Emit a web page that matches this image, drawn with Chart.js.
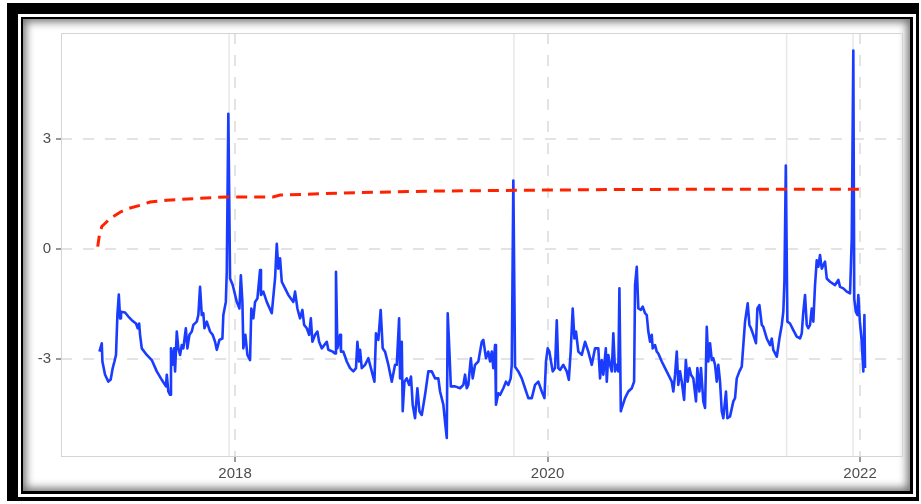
<!DOCTYPE html>
<html><head><meta charset="utf-8">
<script src="https://cdn.jsdelivr.net/npm/chart.js@4.4.1/dist/chart.umd.min.js"></script>
<style>
html,body{margin:0;padding:0;background:#fff;width:921px;height:504px;overflow:hidden;}
#f1{position:absolute;left:7px;top:3px;width:912px;height:498px;background:#000;}
#f2{position:absolute;left:18px;top:14px;width:898px;height:483px;background:#fff;}
#f3{position:absolute;left:21px;top:17px;width:892px;height:477px;background:#000;}
#f4{position:absolute;left:23px;top:19px;width:887px;height:472px;background:#fff;box-shadow:inset 0 0 9px 3px rgba(0,0,0,0.55);}
#c{position:absolute;left:23px;top:19px;width:887px;height:472px;}
</style></head>
<body>
<div id="f1"></div><div id="f2"></div><div id="f3"></div><div id="f4"></div>
<canvas id="c" width="887" height="472"></canvas>
<script>
// ---- data ----
const xTickValues = [2018, 2020, 2022];
const yTickValues = [-3, 0, 3];
const xMin = 2016.886, xMax = 2022.275;
const yMin = -5.69, yMax = 5.90;

const eventYears = [2017.962, 2019.785, 2021.530, 2021.955];

const redYears = [2017.121,2017.132,2017.147,2017.179,2017.200,2017.264,2017.307,2017.392,2017.456,2017.563,2017.731,2017.947,2018.243,2018.288,2018.800,2019.300,2019.800,2020.400,2021.000,2021.600,2022.032];
const redValues = [0.06,0.38,0.61,0.74,0.83,1.00,1.09,1.19,1.28,1.33,1.37,1.42,1.42,1.47,1.54,1.58,1.60,1.62,1.63,1.63,1.63];

const blueYears = [
2017.132,2017.147,2017.151,2017.168,2017.189,2017.204,2017.217,2017.228,2017.238,2017.247,
2017.256,2017.264,2017.270,2017.296,2017.317,2017.339,2017.366,2017.377,2017.386,2017.392,
2017.403,2017.435,2017.467,2017.499,2017.531,2017.558,2017.563,2017.573,2017.584,2017.590,
2017.599,2017.610,2017.616,2017.627,2017.637,2017.648,2017.659,2017.669,2017.685,2017.695,
2017.708,2017.723,2017.733,2017.755,2017.765,2017.776,2017.787,2017.797,2017.804,2017.819,
2017.840,2017.857,2017.872,2017.883,2017.900,2017.919,2017.925,2017.941,2017.947,2017.957,
2017.968,2017.985,2018.011,2018.028,2018.037,2018.047,2018.053,2018.066,2018.079,2018.096,
2018.104,2018.117,2018.128,2018.143,2018.160,2018.166,2018.181,2018.203,2018.235,2018.256,
2018.267,2018.277,2018.288,2018.299,2018.320,2018.341,2018.373,2018.384,2018.399,2018.416,
2018.431,2018.442,2018.459,2018.474,2018.485,2018.495,2018.512,2018.527,2018.538,2018.555,
2018.587,2018.597,2018.625,2018.640,2018.646,2018.655,2018.672,2018.678,2018.693,2018.715,
2018.736,2018.757,2018.774,2018.783,2018.794,2018.800,2018.811,2018.832,2018.853,2018.875,
2018.892,2018.902,2018.917,2018.932,2018.945,2018.960,2018.981,2019.003,2019.024,2019.035,
2019.050,2019.056,2019.067,2019.073,2019.084,2019.099,2019.114,2019.126,2019.137,2019.152,
2019.167,2019.180,2019.195,2019.216,2019.237,2019.259,2019.280,2019.301,2019.312,2019.333,
2019.346,2019.355,2019.361,2019.372,2019.381,2019.408,2019.440,2019.461,2019.472,2019.483,
2019.493,2019.509,2019.521,2019.536,2019.557,2019.579,2019.589,2019.606,2019.621,2019.632,
2019.643,2019.653,2019.664,2019.670,2019.685,2019.696,2019.717,2019.734,2019.749,2019.764,
2019.771,2019.781,2019.792,2019.813,2019.835,2019.856,2019.877,2019.899,2019.920,2019.941,
2019.963,2019.980,2019.990,2020.001,2020.012,2020.022,2020.033,2020.048,2020.059,2020.069,
2020.080,2020.101,2020.123,2020.136,2020.148,2020.161,2020.172,2020.182,2020.197,2020.219,
2020.240,2020.261,2020.283,2020.304,2020.325,2020.336,2020.347,2020.357,2020.373,2020.379,
2020.389,2020.400,2020.411,2020.421,2020.432,2020.443,2020.453,2020.460,2020.469,2020.475,
2020.496,2020.517,2020.539,2020.554,2020.560,2020.571,2020.581,2020.597,2020.609,2020.624,
2020.635,2020.645,2020.656,2020.667,2020.673,2020.688,2020.699,2020.709,2020.731,2020.752,
2020.773,2020.795,2020.805,2020.816,2020.827,2020.837,2020.848,2020.859,2020.874,2020.885,
2020.897,2020.908,2020.918,2020.933,2020.950,2020.959,2020.972,2020.982,2020.997,2021.008,
2021.019,2021.029,2021.040,2021.051,2021.061,2021.072,2021.083,2021.093,2021.104,2021.115,
2021.125,2021.142,2021.151,2021.168,2021.189,2021.200,2021.211,2021.228,2021.243,2021.253,
2021.264,2021.281,2021.292,2021.302,2021.317,2021.334,2021.343,2021.356,2021.371,2021.381,
2021.403,2021.424,2021.435,2021.445,2021.467,2021.477,2021.484,2021.499,2021.509,2021.516,
2021.525,2021.535,2021.552,2021.573,2021.595,2021.616,2021.627,2021.637,2021.648,2021.659,
2021.669,2021.680,2021.691,2021.701,2021.712,2021.723,2021.733,2021.744,2021.755,2021.765,
2021.776,2021.787,2021.808,2021.840,2021.861,2021.872,2021.893,2021.915,2021.936,2021.947,
2021.957,2021.963,2021.973,2021.983,2021.989,2021.999,2022.011,2022.021,2022.028,2022.032];

const blueValues = [
-2.81,-2.58,-3.08,-3.44,-3.63,-3.57,-3.26,-3.08,-2.90,-1.80,
-1.25,-1.90,-1.72,-1.74,-1.85,-1.95,-2.04,-2.17,-2.04,-2.35,
-2.72,-2.90,-3.04,-3.35,-3.58,-3.76,-3.44,-3.90,-3.99,-2.72,
-3.17,-2.72,-3.35,-2.26,-2.72,-2.90,-2.63,-2.72,-2.17,-2.72,
-2.35,-2.26,-2.08,-1.99,-1.81,-1.04,-1.81,-1.76,-2.17,-1.99,
-2.26,-2.35,-2.54,-2.76,-2.49,-2.45,-1.81,-1.45,-0.63,3.69,
-0.81,-0.99,-1.45,-1.63,-0.72,-1.45,-2.72,-2.35,-2.90,-3.04,
-1.63,-1.90,-1.45,-1.36,-0.58,-1.26,-1.17,-1.45,-1.76,-0.81,
0.14,-0.54,-0.26,-0.90,-1.08,-1.26,-1.45,-1.17,-1.63,-1.90,
-1.67,-2.08,-2.17,-2.35,-1.90,-2.54,-2.35,-2.26,-2.54,-2.72,
-2.54,-2.76,-2.81,-2.86,-0.63,-2.72,-2.35,-2.81,-2.81,-3.08,
-3.26,-3.35,-3.26,-2.54,-3.08,-2.76,-3.26,-3.17,-2.99,-3.35,
-3.63,-2.31,-2.49,-1.67,-2.72,-2.81,-3.17,-3.63,-3.17,-3.17,
-1.90,-3.54,-2.54,-4.44,-3.63,-3.54,-3.72,-3.49,-4.26,-4.63,
-3.81,-4.44,-4.54,-3.99,-3.35,-3.35,-3.54,-3.54,-3.90,-4.26,
-4.81,-5.17,-1.76,-2.81,-3.76,-3.76,-3.81,-3.72,-3.44,-3.81,
-3.72,-2.99,-3.54,-3.17,-3.08,-2.54,-2.49,-2.99,-2.81,-3.08,
-2.81,-3.26,-2.63,-4.26,-3.95,-3.99,-3.81,-3.63,-3.72,-3.54,
-3.17,1.87,-3.22,-3.35,-3.54,-3.81,-4.08,-4.08,-3.72,-3.63,
-3.90,-4.08,-3.08,-2.72,-2.81,-3.08,-3.35,-3.26,-1.95,-3.26,
-3.31,-3.17,-3.35,-3.58,-2.81,-1.63,-2.45,-2.26,-2.81,-2.90,
-2.54,-2.81,-3.17,-2.72,-2.72,-3.54,-3.04,-3.44,-2.72,-3.63,
-2.90,-3.17,-3.35,-2.31,-3.35,-3.17,-3.35,-1.08,-4.44,-4.35,
-4.08,-3.90,-3.81,-3.63,-0.99,-0.49,-1.63,-1.67,-1.58,-1.76,
-1.81,-2.26,-2.54,-2.35,-2.72,-2.63,-2.81,-2.86,-3.08,-3.26,
-3.44,-3.63,-3.90,-3.44,-2.81,-3.72,-3.35,-3.63,-4.13,-3.04,
-3.63,-3.26,-3.44,-3.54,-4.17,-3.26,-3.90,-3.26,-4.17,-4.35,
-2.13,-3.08,-2.58,-3.04,-2.99,-3.17,-3.63,-3.17,-3.63,-4.44,
-4.63,-3.90,-4.63,-4.58,-4.17,-4.08,-3.54,-3.35,-3.22,-2.63,
-1.99,-1.49,-2.08,-2.17,-2.35,-2.58,-1.63,-1.54,-2.08,-2.13,
-2.45,-2.63,-2.45,-2.76,-2.95,-2.67,-2.45,-2.08,-1.72,-0.90,
2.28,-1.99,-2.04,-2.22,-2.40,-2.45,-2.31,-1.72,-1.26,-2.08,
-2.17,-2.08,-1.63,-1.99,-0.99,-0.31,-0.49,-0.17,-0.54,-0.45,
-0.35,-0.81,-0.90,-0.99,-0.85,-1.04,-1.08,-1.17,-1.22,0.28,
5.42,-1.36,-1.72,-1.81,-1.26,-1.99,-2.54,-3.35,-1.81,-3.26];

// ---- chart ----
const toPoints = (xs, ys) => xs.map((x, i) => ({x: x, y: ys[i]}));

const panelPlugin = {
  id: 'panel',
  beforeDatasetsDraw(chart) {
    const {ctx, chartArea: a, scales: {x}} = chart;
    ctx.save();
    ctx.strokeStyle = '#e8e8e8';
    ctx.lineWidth = 1.5;
    eventYears.forEach(v => {
      const px = x.getPixelForValue(v);
      ctx.beginPath();
      ctx.moveTo(px, a.top);
      ctx.lineTo(px, a.bottom);
      ctx.stroke();
    });
    ctx.strokeStyle = '#d4d4d4';
    ctx.lineWidth = 1;
    ctx.strokeRect(a.left + 0.5, a.top + 0.5, a.right - a.left - 1, a.bottom - a.top - 1);
    ctx.restore();
  }
};

const tickFont = {family: "'Liberation Sans', Arial, sans-serif", size: 15};
const gridCommon = {color: '#e3e3e3', lineWidth: 2, tickLength: 5,
  tickColor: '#333333', tickWidth: 1, tickBorderDash: [], drawTicks: true};
const borderCommon = {display: false, dash: [11, 11], dashOffset: 0};

new Chart(document.getElementById('c'), {
  type: 'line',
  data: {
    datasets: [
      {data: toPoints(redYears, redValues), borderColor: '#ff2200', borderWidth: 3,
       borderDash: [11, 7], pointRadius: 0, tension: 0, fill: false},
      {data: toPoints(blueYears, blueValues), borderColor: '#1a3cff', borderWidth: 2.6,
       pointRadius: 0, tension: 0, fill: false, borderJoinStyle: 'round'}
    ]
  },
  options: {
    responsive: false, animation: false, devicePixelRatio: 1,
    layout: {padding: {top: 11, right: 7, left: 0, bottom: 0}},
    plugins: {legend: {display: false}, tooltip: {enabled: false}},
    scales: {
      x: {
        type: 'linear', min: xMin, max: xMax,
        afterBuildTicks: s => { s.ticks = xTickValues.map(v => ({value: v})); },
        afterFit: s => { s.height = 34; },
        grid: gridCommon,
        border: borderCommon,
        ticks: {color: '#4d4d4d', font: tickFont, padding: 3, maxRotation: 0, autoSkip: false,
                callback: v => String(v)}
      },
      y: {
        type: 'linear', min: yMin, max: yMax,
        afterBuildTicks: s => { s.ticks = yTickValues.map(v => ({value: v})); },
        afterFit: s => { s.width = 38; },
        grid: gridCommon,
        border: borderCommon,
        ticks: {color: '#4d4d4d', font: tickFont, padding: 5, autoSkip: false,
                callback: v => String(v)}
      }
    }
  },
  plugins: [panelPlugin]
});
</script>
</body></html>
